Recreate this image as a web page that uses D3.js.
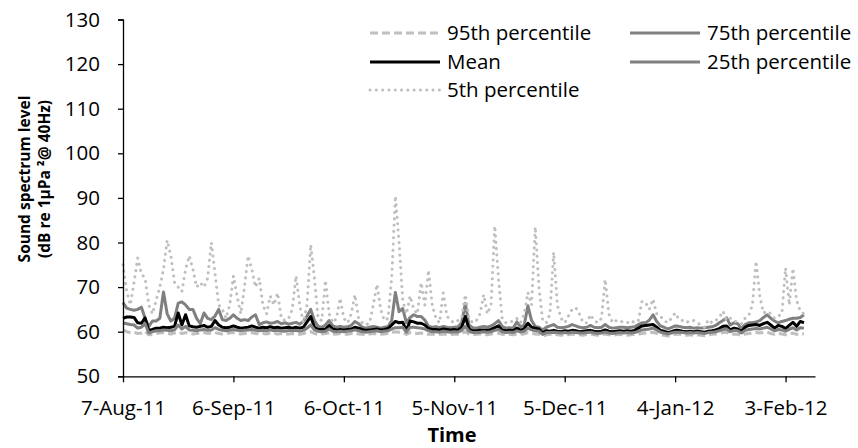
<!DOCTYPE html>
<html>
<head>
<meta charset="utf-8">
<script src="https://cdn.jsdelivr.net/npm/d3@7"></script>
<style>
  html, body { margin: 0; padding: 0; background: #fff; }
  text { font-family: "Open Sans", Lato, sans-serif; fill: #000; }
</style>
</head>
<body>
<svg id="chart" width="858" height="448"></svg>
<script>
// Daily sound spectrum statistics at 40 Hz, one value per day from the start date
const startDate = "2011-08-07";
const endDate = "2012-02-11";
const tickDates = ["2011-08-07", "2011-09-06", "2011-10-06", "2011-11-05", "2011-12-05", "2012-01-04", "2012-02-03"];
const yTicks = [50, 60, 70, 80, 90, 100, 110, 120, 130];

const p95 = [
  60.4, 60.0, 59.8, 59.9, 59.6, 59.7, 60.1, 59.3, 59.4, 59.6,
  59.7, 59.8, 59.6, 59.5, 59.7, 59.9, 59.6, 59.8, 59.6, 59.5,
  59.6, 59.7, 59.8, 59.6, 59.7, 59.8, 59.6, 59.5, 59.6, 59.7,
  59.8, 59.6, 59.5, 59.6, 59.7, 59.8, 59.6, 59.5, 59.6, 59.5,
  59.7, 59.6, 59.5, 59.6, 59.4, 59.5, 59.6, 59.5, 59.4, 59.6,
  59.8, 60.0, 59.6, 59.4, 59.5, 59.6, 59.7, 59.4, 59.5, 59.6,
  59.5, 59.4, 59.6, 59.7, 59.5, 59.4, 59.3, 59.5, 59.6, 59.5,
  59.4, 59.5, 59.6, 59.8, 60.0, 59.9, 59.8, 59.4, 59.8, 59.7,
  59.6, 59.7, 59.5, 59.4, 59.5, 59.3, 59.4, 59.5, 59.4, 59.3,
  59.5, 59.4, 59.6, 60.0, 59.5, 59.3, 59.4, 59.5, 59.4, 59.3,
  59.5, 59.6, 59.7, 59.4, 59.3, 59.4, 59.3, 59.5, 59.4, 59.5,
  59.8, 59.6, 59.5, 59.4, 59.0, 59.3, 59.4, 59.5, 59.3, 59.2,
  59.4, 59.3, 59.5, 59.4, 59.3, 59.2, 59.4, 59.5, 59.3, 59.2,
  59.4, 59.5, 59.3, 59.2, 59.3, 59.4, 59.3, 59.2, 59.3, 59.4,
  59.5, 59.6, 59.7, 59.8, 59.9, 59.6, 59.3, 59.2, 59.0, 59.2,
  59.4, 59.5, 59.3, 59.2, 59.3, 59.2, 59.3, 59.2, 59.1, 59.3,
  59.4, 59.5, 59.6, 59.8, 59.9, 59.4, 59.5, 59.4, 59.1, 59.5,
  59.6, 59.7, 59.8, 59.7, 59.8, 59.9, 59.6, 59.4, 59.6, 59.5,
  59.3, 59.5, 59.7, 59.4, 59.6, 59.5
];

const p75 = [
  66.5, 65.3, 65.0, 64.8, 65.0, 65.5, 63.0, 61.2, 62.4, 62.4,
  63.0, 68.9, 64.0, 62.4, 63.0, 66.4, 66.7, 66.0, 65.0, 65.0,
  63.0, 61.8, 64.2, 63.0, 62.7, 63.5, 65.0, 62.7, 62.5, 63.0,
  63.8, 63.0, 62.5, 62.7, 62.5, 63.3, 63.8, 61.6, 62.0, 62.2,
  61.9, 62.0, 62.3, 61.8, 62.0, 61.7, 61.9, 62.1, 61.7, 62.3,
  63.5, 65.0, 62.5, 61.2, 61.0, 61.5, 62.5, 61.3, 61.0, 61.2,
  61.0, 61.1, 61.4, 62.3, 61.8, 61.0, 60.8, 61.0, 61.2, 61.0,
  60.8, 61.0, 61.1, 62.5, 68.8, 64.5, 65.2, 62.0, 63.2, 63.8,
  63.4, 63.4, 62.6, 61.2, 61.0, 61.1, 60.9, 61.2, 61.0, 60.9,
  61.0, 61.1, 62.0, 66.3, 61.5, 60.9, 60.8, 61.0, 61.2, 61.0,
  61.3, 61.8, 62.5, 61.2, 60.8, 60.9, 60.8, 62.2, 61.1, 61.5,
  65.8, 62.5, 61.2, 61.0, 60.4, 61.0, 61.3, 61.6, 61.0, 60.9,
  61.0, 61.2, 61.6, 61.3, 61.0, 60.9, 61.0, 61.4, 61.0, 60.9,
  61.0, 61.6, 61.0, 60.8, 60.9, 61.0, 61.0, 60.9, 61.0, 61.1,
  61.6, 62.0, 62.0, 62.6, 63.8, 62.3, 61.3, 61.0, 60.6, 60.9,
  61.3, 61.2, 61.0, 60.9, 61.0, 60.8, 60.9, 60.8, 60.9, 61.0,
  61.1, 61.4, 62.0, 62.5, 63.1, 61.5, 62.0, 61.8, 60.7, 61.6,
  62.0, 62.0, 62.2, 62.5, 63.2, 63.8, 63.0, 62.4, 62.0, 62.3,
  62.5, 62.8, 63.0, 63.0, 63.2, 63.8
];

const mean = [
  63.0, 63.3, 63.3, 63.2, 62.0, 61.9, 63.1, 60.3, 60.5, 60.8,
  60.8, 61.0, 60.9, 61.0, 61.2, 64.2, 61.5, 63.8, 61.3, 61.1,
  61.0, 61.2, 61.4, 61.0, 61.2, 62.5, 61.5, 61.0, 60.9, 61.0,
  61.3, 61.0, 60.8, 60.9, 61.0, 61.3, 61.0, 60.8, 61.0, 60.9,
  61.1, 60.9, 61.0, 60.8, 60.9, 61.0, 60.8, 61.0, 60.8, 61.0,
  62.2, 63.4, 61.0, 60.5, 60.5, 60.6, 61.4, 60.6, 60.4, 60.5,
  60.4, 60.5, 60.6, 61.0, 60.8, 60.5, 60.3, 60.4, 60.5, 60.6,
  60.4, 60.5, 60.7, 61.5, 62.3, 62.0, 62.1, 60.3, 62.4, 62.2,
  61.9, 61.9, 61.5, 60.7, 60.5, 60.5, 60.4, 60.6, 60.5, 60.4,
  60.5, 60.4, 61.0, 63.4, 60.6, 60.2, 60.2, 60.3, 60.4, 60.3,
  60.5, 60.9, 61.3, 60.4, 60.2, 60.3, 60.2, 60.8, 60.3, 60.7,
  61.9, 61.0, 60.8, 60.6, 59.7, 60.2, 60.1, 60.3, 60.1, 60.0,
  60.2, 60.1, 60.3, 60.2, 60.0, 60.1, 60.2, 60.3, 60.1, 60.0,
  60.1, 60.4, 60.1, 60.0, 60.1, 60.2, 60.1, 60.2, 60.1, 60.3,
  60.8, 61.3, 61.4, 61.5, 61.6, 61.0, 60.3, 60.1, 59.8, 60.0,
  60.3, 60.3, 60.1, 60.0, 60.1, 60.0, 60.1, 60.0, 59.9, 60.1,
  60.2, 60.4, 60.7, 61.2, 61.3, 60.4, 60.8, 60.6, 60.0, 61.0,
  61.4, 61.5, 61.6, 61.4, 61.8, 62.1, 61.5, 60.8, 61.4, 61.2,
  60.7, 61.4, 62.1, 61.2, 62.3, 62.0
];

const p25 = [
  62.0, 61.8, 61.6, 61.5, 60.8, 61.0, 61.8, 59.7, 60.0, 60.2,
  60.2, 60.4, 60.3, 60.2, 60.4, 61.5, 60.6, 61.2, 60.4, 60.3,
  60.2, 60.4, 60.5, 60.3, 60.4, 60.9, 60.5, 60.3, 60.2, 60.3,
  60.5, 60.3, 60.2, 60.3, 60.4, 60.5, 60.3, 60.2, 60.3, 60.2,
  60.4, 60.2, 60.3, 60.2, 60.1, 60.3, 60.2, 60.3, 60.1, 60.3,
  60.8, 61.5, 60.4, 60.1, 60.0, 60.1, 60.6, 60.1, 60.0, 60.1,
  60.0, 60.1, 60.2, 60.4, 60.2, 60.0, 59.9, 60.0, 60.1, 60.2,
  60.0, 60.1, 60.2, 60.6, 60.9, 60.9, 61.0, 59.9, 61.0, 61.0,
  60.9, 60.8, 60.6, 60.2, 60.0, 60.0, 59.9, 60.1, 60.0, 59.9,
  60.0, 59.9, 60.3, 61.2, 60.1, 59.8, 59.8, 59.9, 60.0, 59.9,
  60.0, 60.3, 60.5, 60.0, 59.8, 59.9, 59.8, 60.2, 59.9, 60.1,
  60.8, 60.4, 60.2, 60.1, 59.4, 59.8, 59.8, 59.9, 59.8, 59.7,
  59.8, 59.7, 59.9, 59.8, 59.7, 59.7, 59.8, 59.9, 59.7, 59.6,
  59.7, 59.9, 59.7, 59.6, 59.7, 59.8, 59.7, 59.8, 59.7, 59.8,
  60.1, 60.4, 60.5, 60.6, 60.8, 60.4, 59.9, 59.7, 59.5, 59.7,
  59.9, 59.9, 59.8, 59.7, 59.8, 59.7, 59.8, 59.7, 59.6, 59.8,
  59.9, 60.0, 60.2, 60.5, 60.6, 60.0, 60.3, 60.2, 59.7, 60.3,
  60.5, 60.6, 60.7, 60.6, 60.8, 61.0, 60.6, 60.2, 60.5, 60.4,
  60.1, 60.5, 60.9, 60.4, 60.9, 60.8
];

const p5 = [
  75.0, 69.0, 66.0, 71.0, 76.5, 73.0, 72.0, 66.0, 64.0, 67.0,
  70.0, 74.0, 80.5, 77.0, 71.0, 70.0, 69.0, 74.0, 77.0, 74.0,
  70.0, 71.0, 70.0, 72.0, 80.0, 73.0, 66.0, 65.0, 63.0, 66.0,
  72.5, 68.0, 64.0, 70.0, 77.0, 74.0, 70.0, 72.0, 66.0, 64.0,
  68.0, 66.0, 68.7, 63.0, 62.5, 63.0, 65.0, 72.5, 66.0, 62.0,
  66.0, 79.5, 72.0, 63.0, 62.5, 71.5, 64.0, 62.0, 63.0, 67.5,
  63.0, 62.0, 64.0, 68.3, 63.0, 62.0, 61.5, 62.0, 66.0, 70.6,
  65.0, 62.5, 63.0, 72.0, 90.4, 80.0, 67.0, 64.0, 68.0, 65.0,
  64.0, 71.0, 66.0, 73.8, 66.0, 63.0, 62.0, 68.7, 63.5, 62.5,
  62.0, 62.5, 63.0, 68.3, 63.0, 62.0, 62.5, 64.0, 68.3, 64.0,
  66.0, 83.7, 72.0, 63.0, 62.0, 62.0, 62.5, 63.0, 62.0, 64.0,
  68.8, 66.0, 83.5, 70.0, 62.5, 62.0, 64.0, 77.8, 66.0, 63.0,
  62.0, 63.5, 65.0, 65.4, 64.0, 62.0, 62.0, 63.8, 62.5, 62.0,
  63.0, 71.7, 64.0, 62.0, 62.5, 62.5, 62.0, 62.0, 62.5, 62.0,
  62.5, 66.8, 66.5, 65.0, 67.3, 64.0, 63.5, 62.5, 62.0, 63.0,
  64.2, 62.8, 62.5, 62.0, 62.5, 62.5, 62.0, 61.5, 61.0, 62.7,
  62.0, 62.5, 63.2, 64.6, 62.5, 63.0, 62.5, 62.0, 61.8, 63.0,
  63.6, 66.0, 75.8, 68.0, 64.2, 64.6, 64.0, 63.0, 63.5, 64.0,
  74.3, 66.0, 74.2, 67.0, 64.6, 64.0
];

const seriesNames = ["95th percentile", "75th percentile", "Mean", "25th percentile", "5th percentile"];
const seriesValues = [p95, p75, mean, p25, p5];
const seriesColors = ["#bfbfbf", "#808080", "#000000", "#808080", "#bfbfbf"];
const seriesDashes = ["8,4", null, null, null, "0.1,6.2"];

const yTitleLines = ["Sound spectrum level", "(dB re 1µPa ²@ 40Hz)"];
const xTitle = "Time";

const svg = d3.select("#chart");
const W = 858, H = 448;
const plot = { left: 123, right: 815, top: 19.5, bottom: 376.3 };
const labelFont = "20.5px";

svg.append("rect").attr("width", W).attr("height", H).attr("fill", "#fff");

const parse = d3.utcParse("%Y-%m-%d");
const t0 = parse(startDate);

const x = d3.scaleUtc()
  .domain([t0, parse(endDate)])
  .range([plot.left, plot.right]);

const y = d3.scaleLinear()
  .domain([50, 130])
  .range([plot.bottom, plot.top]);

const series = seriesNames.map((name, i) => ({
  name,
  color: seriesColors[i],
  dash: seriesDashes[i],
  dotted: seriesDashes[i] === "0.1,6.2",
  points: seriesValues[i].map((v, k) => ({ date: d3.utcDay.offset(t0, k), value: v }))
}));

const line = d3.line()
  .x(d => x(d.date))
  .y(d => y(d.value));

// Series lines, drawn in legend order
const lines = svg.append("g");
series.forEach(s => {
  lines.append("path")
    .datum(s.points)
    .attr("fill", "none")
    .attr("stroke", s.color)
    .attr("stroke-width", 3)
    .attr("stroke-linejoin", "round")
    .attr("stroke-linecap", s.dotted ? "round" : "butt")
    .attr("stroke-dasharray", s.dash)
    .attr("d", line);
});

// Y axis
const yAxis = svg.append("g")
  .attr("transform", `translate(${plot.left},0)`)
  .call(d3.axisLeft(y).tickValues(yTicks).tickSize(5).tickPadding(18));
yAxis.select(".domain").attr("stroke", "#000").attr("stroke-width", 1.3);
yAxis.selectAll(".tick line").attr("stroke", "#000").attr("stroke-width", 1.3);
yAxis.selectAll(".tick text")
  .style("font-family", "'Open Sans', sans-serif")
  .style("font-size", labelFont)
  .attr("fill", "#000");

// X axis
const fmt = d3.utcFormat("%-d-%b-%y");
const xAxis = svg.append("g")
  .attr("transform", `translate(0,${plot.bottom})`)
  .call(d3.axisBottom(x)
    .tickValues(tickDates.map(parse))
    .tickFormat(fmt)
    .tickSizeInner(6).tickSizeOuter(0).tickPadding(18));
xAxis.select(".domain").attr("stroke", "#000").attr("stroke-width", 1.3);
xAxis.selectAll(".tick line").attr("stroke", "#000").attr("stroke-width", 1.3);
xAxis.selectAll(".tick text")
  .style("font-family", "'Open Sans', sans-serif")
  .style("font-size", labelFont)
  .attr("fill", "#000");

// Axis titles
const yTitle = svg.append("text")
  .attr("transform", "translate(0,179) rotate(-90)")
  .attr("text-anchor", "middle")
  .style("font-size", "15.5px")
  .style("font-weight", "bold");
yTitle.append("tspan").attr("x", 0).attr("y", 30).text(yTitleLines[0]);
yTitle.append("tspan").attr("x", 0).attr("y", 50).text(yTitleLines[1]);

svg.append("text")
  .attr("x", 452).attr("y", 442)
  .attr("text-anchor", "middle")
  .style("font-size", "20px")
  .style("font-weight", "bold")
  .text(xTitle);

// Legend: two columns, filled row by row
const legendCols = [370, 630];
const legendRows = [33, 62, 90];
const legend = svg.append("g");
series.forEach((s, i) => {
  const lx = legendCols[i % 2];
  const ly = legendRows[Math.floor(i / 2)];
  legend.append("line")
    .attr("x1", lx).attr("x2", lx + 70)
    .attr("y1", ly).attr("y2", ly)
    .attr("stroke", s.color)
    .attr("stroke-width", 3)
    .attr("stroke-linecap", s.dotted ? "round" : "butt")
    .attr("stroke-dasharray", s.dash);
  legend.append("text")
    .attr("x", lx + 77).attr("y", ly)
    .attr("dy", "0.35em")
    .style("font-size", labelFont)
    .text(s.name);
});
</script>
</body>
</html>
